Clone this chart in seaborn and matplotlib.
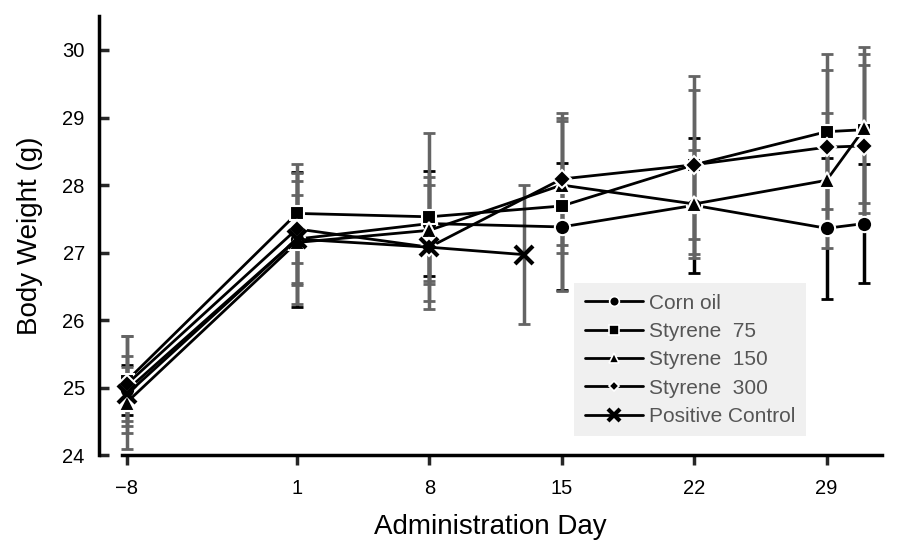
import numpy as np
import pandas as pd
import matplotlib
matplotlib.use("Agg")
import matplotlib.pyplot as plt
from matplotlib.lines import Line2D
import seaborn as sns

# ── Données ──────────────────────────────────────────────────
days = [-8, 1, 8, 15, 22, 29, 31]
xticks = [-8, 1, 8, 15, 22, 29]

corn = [24.96, 27.20, 27.43, 27.38, 27.70, 27.36, 27.43]
corn_sd = [0.37, 1.00, 0.78, 0.94, 1.00, 1.04, 0.88]
s75 = [25.10, 27.58, 27.53, 27.69, 28.30, 28.79, 28.82]
s75_sd = [0.67, 0.73, 1.24, 1.26, 1.32, 1.15, 1.23]
s150 = [24.78, 27.15, 27.33, 28.00, 27.72, 28.07, 28.84]
s150_sd = [0.69, 0.91, 0.79, 1.00, 0.80, 1.00, 1.10]
s300 = [25.05, 27.35, 27.08, 28.09, 28.30, 28.56, 28.58]
s300_sd = [0.72, 0.83, 0.92, 0.98, 1.10, 1.15, 1.20]

pc_days = [-8, 1, 8, 13]
pc = [24.90, 27.20, 27.08, 26.97]
pc_sd = [0.40, 0.65, 0.50, 1.03]

groups = ["Corn oil", "Styrene  75", "Styrene  150", "Styrene  300", "Positive Control"]

# ── Style ────────────────────────────────────────────────────
sns.set_style("white")
plt.rcParams["font.family"] = ["Liberation Sans", "DejaVu Sans"]

fig = plt.figure(figsize=(9.05, 5.4), dpi=100)
ax = fig.add_axes([0.109, 0.157, 0.866, 0.813])

series = [
    (groups[0], days, corn, corn_sd, "o", 11, "black"),
    (groups[1], days, s75, s75_sd, "s", 10, "#646464"),
    (groups[2], days, s150, s150_sd, "^", 11, "#646464"),
    (groups[3], days, s300, s300_sd, "D", 9, "#646464"),
    (groups[4], pc_days, pc, pc_sd, "x", 13, "#646464"),
]

# barres d'erreur en arrière-plan
for name, x, y, sd, mk, ms, ecol in series:
    ax.errorbar(x, y, yerr=sd, fmt="none", ecolor=ecol, elinewidth=2.5,
                capsize=4.5, capthick=2, zorder=1)

# courbes
for name, x, y, sd, mk, ms, ecol in series:
    d = pd.DataFrame({"day": x, "bw": y})
    if mk == "x":
        sns.lineplot(data=d, x="day", y="bw", ax=ax, color="black", lw=2,
                     marker="x", markersize=ms, markeredgewidth=3,
                     markeredgecolor="black", zorder=3)
    else:
        sns.lineplot(data=d, x="day", y="bw", ax=ax, color="black", lw=2,
                     marker=mk, markersize=ms, markerfacecolor="black",
                     markeredgecolor="white", markeredgewidth=1.5, zorder=3)

# ── Axes ─────────────────────────────────────────────────────
ax.set_xlim(-9.48, 31.95)
ax.set_ylim(24, 30.5)
ax.set_xticks(xticks)
ax.set_yticks(range(24, 31))
ax.spines["top"].set_visible(False)
ax.spines["right"].set_visible(False)
for s in ["left", "bottom"]:
    ax.spines[s].set_linewidth(2.5)
    ax.spines[s].set_color("black")
ax.spines["bottom"].set_bounds(-8.26, 31.95)
ax.tick_params(axis="y", direction="in", length=7, width=2.5, labelsize=14.5,
               pad=10, labelcolor="black")
ax.tick_params(axis="x", direction="out", length=7, width=2.5, labelsize=14.5,
               pad=10, labelcolor="black")
ax.tick_params(left=True, bottom=True)
ax.set_xlabel("Administration Day", fontsize=20, labelpad=12, color="black")
ax.set_ylabel("Body Weight (g)", fontsize=20, labelpad=14, color="black")

# ── Légende ──────────────────────────────────────────────────
handles = [
    Line2D([], [], color="black", lw=2, marker="o", ms=7, mfc="black", mec="white", mew=1.2),
    Line2D([], [], color="black", lw=2, marker="s", ms=7, mfc="black", mec="white", mew=1.2),
    Line2D([], [], color="black", lw=2, marker="^", ms=7, mfc="black", mec="white", mew=1.2),
    Line2D([], [], color="black", lw=2, marker="D", ms=5.5, mfc="black", mec="white", mew=1.2),
    Line2D([], [], color="black", lw=2, marker="x", ms=9, mec="black", mew=3),
]
leg = ax.legend(handles, groups, loc="upper left", bbox_to_anchor=(0.607, 0.392),
                fontsize=15, frameon=True, facecolor="#f0f0f0", edgecolor="none",
                framealpha=1, fancybox=False, handlelength=2.8, handletextpad=0.3,
                labelspacing=0.45, borderpad=0.5, borderaxespad=0)
for t in leg.get_texts():
    t.set_color("#555555")

fig.savefig("out.png", dpi=100)
